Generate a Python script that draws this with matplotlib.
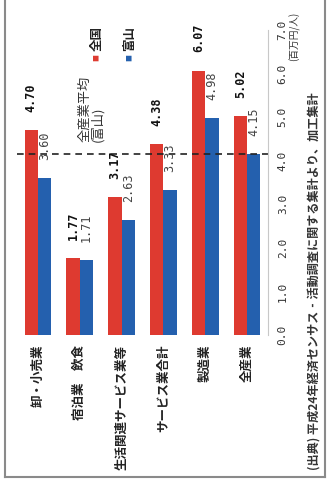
import numpy as np
import matplotlib
matplotlib.use("Agg")
import matplotlib.pyplot as plt
from matplotlib.lines import Line2D

plt.rcParams['font.family'] = ['Noto Sans CJK JP', 'DejaVu Sans']

# data (百万円/人)
categories = ['卸・小売業', '宿泊業　飲食', '生活関連サービス業等', 'サービス業合計', '製造業', '全産業']
zenkoku = [4.70, 1.77, 3.17, 4.38, 6.07, 5.02]
toyama = [3.60, 1.71, 2.63, 3.33, 4.98, 4.15]
toyama_avg = 4.15
value_ticks = [0.0, 1.0, 2.0, 3.0, 4.0, 5.0, 6.0, 7.0]

RED = '#de3a30'
BLUE = '#2460ae'

fig = plt.figure(figsize=(3.3, 4.8), dpi=100)
ax = fig.add_axes([17 / 330, 145 / 480, 251 / 330, 305 / 480])

x = np.arange(len(categories))
w = 0.32
ax.bar(x - w / 2, zenkoku, w, color=RED)
ax.bar(x + w / 2, toyama, w, color=BLUE)

# value labels, rotated like the rest of the chart
for xi, v in zip(x, zenkoku):
    ax.text(xi - w / 2, v + 0.42, f'{v:.2f}', rotation=90, ha='center', va='bottom',
            family='DejaVu Sans Mono', fontsize=8.5, fontweight='bold', color='#111')
for xi, v in zip(x, toyama):
    ax.text(xi + w / 2, v + 0.42, f'{v:.2f}', rotation=90, ha='center', va='bottom',
            family='DejaVu Sans Mono', fontsize=8.5, color='#444')

# 全産業平均 (富山)
ax.axhline(toyama_avg, color='#222', lw=1.2, ls=(0, (4, 3)))
ax.text(1.27, toyama_avg + 0.28, '全産業平均\n(富山)', rotation=90, ha='center', va='bottom',
        multialignment='left', fontsize=9.5, color='#333', linespacing=1.0)

# legend
for lx, col, name in [(1.41, RED, '全国'), (2.2, BLUE, '富山')]:
    ax.text(lx, 6.38, '■', color=col, rotation=90, ha='center', va='center', fontsize=5,
            clip_on=False)
    ax.text(lx, 6.52, name, rotation=90, ha='center', va='bottom', fontsize=9,
            fontweight='bold', color='#222', clip_on=False)

ax.set_xlim(-0.5, len(categories) - 0.5)
ax.set_ylim(0, 7)
ax.set_xticks(x)
ax.set_xticklabels(categories, rotation=90, fontsize=9, fontweight='bold', color='#222')
ax.yaxis.tick_right()
ax.set_yticks(value_ticks)
ax.set_yticklabels([f'{t:.1f}' for t in value_ticks], rotation=90, va='center',
                   family='DejaVu Sans Mono', fontsize=8, color='#333')
ax.tick_params(axis='x', length=0, pad=7)
ax.tick_params(axis='y', length=0, pad=7)

for s in ['top', 'left', 'bottom']:
    ax.spines[s].set_visible(False)
ax.spines['right'].set_color('#c8c8c8')
ax.spines['right'].set_linewidth(0.8)

fig.text(294 / 330, (480 - 36) / 480, '(百万円/人)', rotation=90, ha='center', va='center',
         fontsize=7, color='#333')

fig.text(315 / 330, 10 / 480,
         '(出典) 平成24年経済センサス‐活動調査に関する集計より、加工集計',
         rotation=90, ha='center', va='bottom', fontsize=8.7, fontweight='bold', color='#333')

# scanned page frame
for xs, ys in [([5, 5], [0, 477]), ([325, 325], [0, 477]), ([5, 325], [477, 477])]:
    fig.add_artist(Line2D([v / 330 for v in xs], [1 - v / 480 for v in ys],
                          color='#8a8a8a', lw=1.5))

fig.savefig('out.png', dpi=100)
